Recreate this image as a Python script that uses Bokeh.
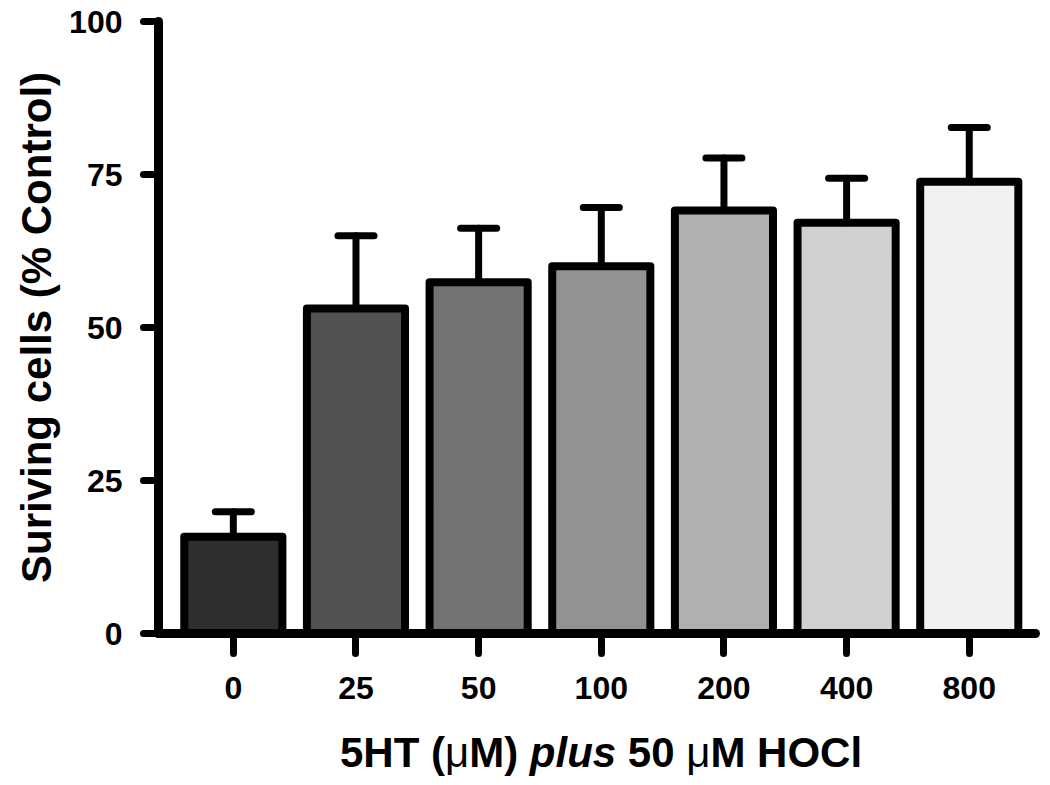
from bokeh.plotting import figure
from bokeh.models import Range1d, FixedTicker, Div
from bokeh.layouts import column
from bokeh.embed import file_html
from bokeh.resources import INLINE

# ---- data ----
concentrations = ["0", "25", "50", "100", "200", "400", "800"]
surviving = [15.8, 53.1, 57.4, 60.0, 69.1, 67.1, 73.8]
sem = [4.1, 11.9, 8.8, 9.6, 8.6, 7.3, 8.9]
bar_colors = ["#2e2e2e", "#525252", "#727272", "#929292", "#b0b0b0", "#d0d0d0", "#f0f0f0"]
y_ticks = [0, 25, 50, 75, 100]
y_title = "Suriving cells (% Control)"
MU = '<span style="font-weight:normal">μ</span>'
x_title_html = f"5HT ({MU}M) <i>plus</i> 50 {MU}M HOCl"

FONT = "Liberation Sans"

# ---- geometry ----
W, H = 1044, 730
B_LEFT, B_RIGHT, B_TOP, B_BOTTOM = 158, 9, 21, 97
X0, X1 = -0.61, 6.54
Y0, Y1 = 0, 100

idx = list(range(len(concentrations)))
err_top = [m + s for m, s in zip(surviving, sem)]

p = figure(width=W, height=H, x_range=Range1d(X0, X1), y_range=Range1d(Y0, Y1),
           output_backend="svg", toolbar_location=None,
           min_border_left=B_LEFT, min_border_right=B_RIGHT,
           min_border_top=B_TOP, min_border_bottom=B_BOTTOM)
p.outline_line_color = None
p.xgrid.visible = False
p.ygrid.visible = False
p.background_fill_color = "white"
p.border_fill_color = "white"

# bars
p.vbar(x=idx, top=surviving, bottom=0, width=0.8, fill_color=bar_colors,
       line_color="black", line_width=8, line_join="round")
# error bars (upper only)
p.segment(x0=idx, y0=surviving, x1=idx, y1=err_top, line_color="black",
          line_width=7, line_cap="round")
p.segment(x0=[i - 0.147 for i in idx], y0=err_top, x1=[i + 0.147 for i in idx], y1=err_top,
          line_color="black", line_width=7, line_cap="round")

# axes
for ax in (p.xaxis[0], p.yaxis[0]):
    ax.axis_line_width = 9
    ax.axis_line_color = "black"
    ax.axis_line_cap = "round"
    ax.major_tick_line_width = 7
    ax.major_tick_line_color = "black"
    ax.major_tick_line_cap = "round"
    ax.major_tick_in = 0
    ax.minor_tick_line_color = None
    ax.major_label_text_font = FONT
    ax.major_label_text_font_style = "bold"
    ax.major_label_text_font_size = "32px"
    ax.major_label_text_color = "black"

p.yaxis[0].ticker = FixedTicker(ticks=y_ticks)
p.yaxis[0].major_tick_out = 15
p.yaxis[0].major_label_standoff = 21
p.yaxis[0].axis_label = y_title
p.yaxis[0].axis_label_text_font = FONT
p.yaxis[0].axis_label_text_font_style = "bold"
p.yaxis[0].axis_label_text_font_size = "42px"
p.yaxis[0].axis_label_text_color = "black"
p.yaxis[0].axis_label_standoff = 6

p.xaxis[0].ticker = FixedTicker(ticks=idx)
p.xaxis[0].major_label_overrides = {i: c for i, c in zip(idx, concentrations)}
p.xaxis[0].major_tick_out = 20
p.xaxis[0].major_label_standoff = 23

# x title with mixed bold / bold italic text
title = Div(
    text=f'<div style="padding-left:340px; white-space:nowrap; font-family:\'{FONT}\'; '
         f'font-weight:bold; font-size:42px; line-height:46px; color:black;">{x_title_html}</div>',
    width=W, height=50, margin=(0, 0, 0, 0))

layout = column(p, title, spacing=0)
open("out.html", "w").write(file_html(layout, INLINE))
